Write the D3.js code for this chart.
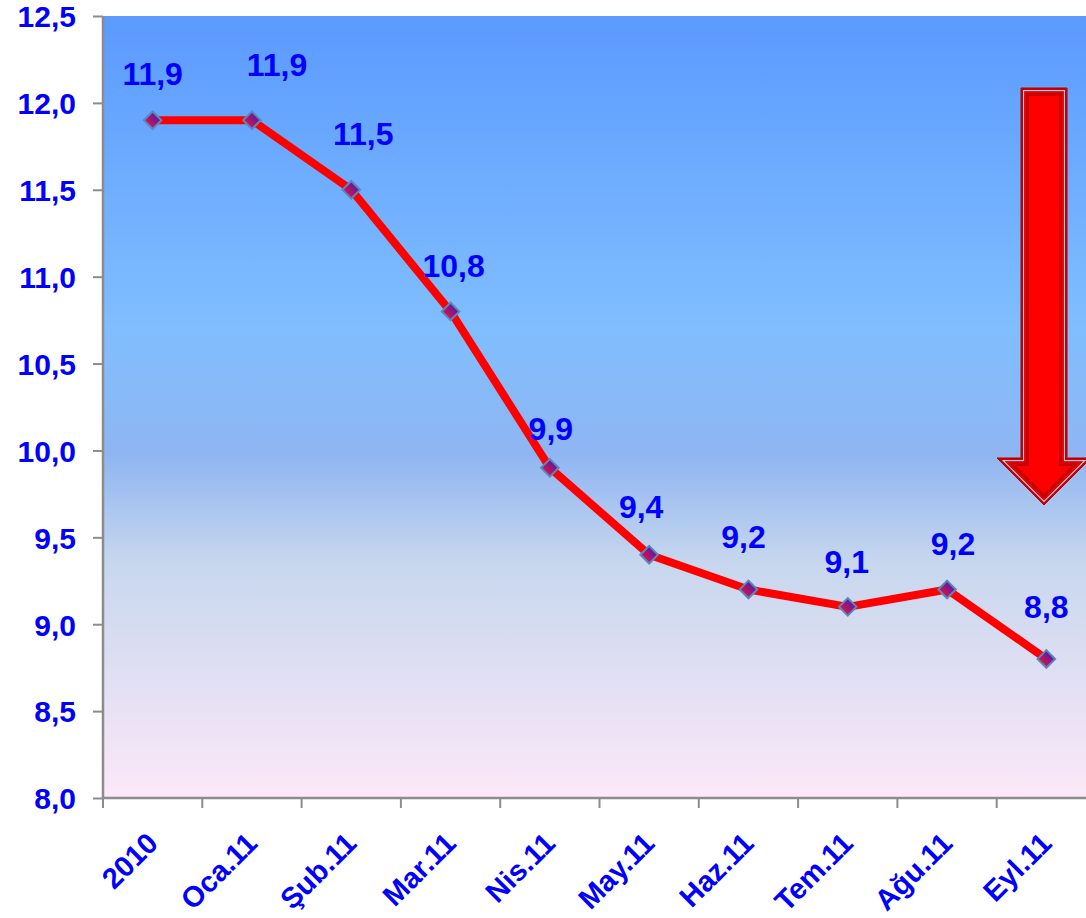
<!DOCTYPE html>
<html>
<head>
<meta charset="utf-8">
<script src="https://cdn.jsdelivr.net/npm/d3@7"></script>
<style>
  html, body { margin: 0; padding: 0; background: #ffffff; }
  svg { display: block; }
  text { font-family: Arial, "Liberation Sans", sans-serif; font-weight: bold; fill: #0000FF; }
</style>
</head>
<body>
<svg id="chart" width="1086" height="918"></svg>
<script>
// ---- data ----
const categories = ["2010", "Oca.11", "Şub.11", "Mar.11", "Nis.11", "May.11", "Haz.11", "Tem.11", "Ağu.11", "Eyl.11"];
const values = [11.9, 11.9, 11.5, 10.8, 9.9, 9.4, 9.2, 9.1, 9.2, 8.8];
const yTicks = [8.0, 8.5, 9.0, 9.5, 10.0, 10.5, 11.0, 11.5, 12.0, 12.5];

// ---- layout (label nudges in px, not data) ----
const labelNudgeX = [0, 25, 12, 3, 1, -8, -5, -1, 6, 0];
const labelNudgeY = [-35, -44, -45, -34, -28, -37, -41, -34, -34, -41];

const W = 1086, H = 918;
const plot = { left: 103, top: 16, bottom: 798, step: 99.3 };

const svg = d3.select("#chart");
const x = d3.scaleBand().domain(categories)
  .range([plot.left, plot.left + plot.step * categories.length]).padding(0);
const y = d3.scaleLinear().domain([8, 12.5]).range([plot.bottom, plot.top]);

const loc = d3.formatLocale({ decimal: ",", thousands: ".", grouping: [3], currency: ["", ""] });
const fmt = loc.format(".1f");

const defs = svg.append("defs");
const bg = defs.append("linearGradient").attr("id", "bg").attr("x1", 0).attr("y1", 0).attr("x2", 0).attr("y2", 1);
[[0, "#5B9AFF"], [0.40, "#80BEFF"], [0.56, "#8FB5F2"], [0.70, "#C7D7EE"], [1, "#FCE8F8"]]
  .forEach(([o, c]) => bg.append("stop").attr("offset", o).attr("stop-color", c));
const mk = defs.append("linearGradient").attr("id", "mk").attr("x1", 0).attr("y1", 0).attr("x2", 0).attr("y2", 1);
[[0, "#5E1A9E"], [1, "#D8104E"]].forEach(([o, c]) => mk.append("stop").attr("offset", o).attr("stop-color", c));

// plot background
svg.append("rect")
  .attr("x", plot.left).attr("y", plot.top)
  .attr("width", W - plot.left + 20).attr("height", plot.bottom - plot.top)
  .attr("fill", "url(#bg)");

// y axis
const yAxis = svg.append("g").attr("transform", `translate(${plot.left},0)`)
  .call(d3.axisLeft(y).tickValues(yTicks).tickFormat(fmt).tickSize(10).tickPadding(17));
yAxis.select(".domain").attr("stroke", "#8C8C8C").attr("stroke-width", 2.5).attr("d", `M0,${plot.top}V${plot.bottom}`);
yAxis.selectAll(".tick line").attr("stroke", "#8C8C8C").attr("stroke-width", 2);
yAxis.selectAll(".tick text").attr("font-size", 30).attr("fill", "#0000FF")
  .attr("font-family", "Arial, 'Liberation Sans', sans-serif").attr("font-weight", "bold")
  .attr("dy", "0.36em");

// x axis
const xAxis = svg.append("g").attr("transform", `translate(0,${plot.bottom})`)
  .call(d3.axisBottom(x).tickSize(0).tickFormat(""));
xAxis.select(".domain").attr("stroke", "#8C8C8C").attr("stroke-width", 2.5)
  .attr("d", `M${plot.left},0H${W + 20}`);
// band boundary ticks
svg.append("g").selectAll("line").data(categories).join("line")
  .attr("x1", d => x(d)).attr("x2", d => x(d))
  .attr("y1", plot.bottom).attr("y2", plot.bottom + 10)
  .attr("stroke", "#8C8C8C").attr("stroke-width", 2);

// x labels rotated
svg.append("g").selectAll("text").data(categories).join("text")
  .attr("text-anchor", "end")
  .attr("font-size", 29)
  .attr("transform", d => `translate(${x(d) + x.bandwidth() / 2 + 7},${plot.bottom + 47}) rotate(-45)`)
  .text(d => d);

// arrow decoration
const A = { sl: 1021, sr: 1067, top: 88, hb: 458, hl: 997, tipx: 1044, tipy: 505 };
function arrowPts(d) {
  const r2 = Math.SQRT2;
  const hr = 2 * A.tipx - A.hl;
  return [
    [A.sl + d, A.top + d], [A.sr - d, A.top + d], [A.sr - d, A.hb + d],
    [hr - d * (1 + r2), A.hb + d], [A.tipx, A.tipy - d * r2],
    [A.hl + d * (1 + r2), A.hb + d], [A.sl + d, A.hb + d]
  ];
}
const line0 = d3.line().curve(d3.curveLinearClosed);
const ag = svg.append("g");
ag.append("path").attr("d", line0(arrowPts(0))).attr("fill", "#C80000").attr("stroke", "#B00000").attr("stroke-width", 1);
ag.append("path").attr("d", line0(arrowPts(2.6))).attr("fill", "none").attr("stroke", "#B9CCF2").attr("stroke-width", 1.2);
ag.append("path").attr("d", line0(arrowPts(3.4))).attr("fill", "#F00000");
ag.append("path").attr("d", line0(arrowPts(4.8))).attr("fill", "#C80000");
ag.append("path").attr("d", line0(arrowPts(8))).attr("fill", "#FF0000");

// data line
const pts = categories.map((c, i) => ({ c, v: values[i], i }));
const cx = d => x(d.c) + x.bandwidth() / 2;
svg.append("path").datum(pts)
  .attr("d", d3.line().x(cx).y(d => y(d.v)).curve(d3.curveLinear))
  .attr("fill", "none").attr("stroke", "#FF0000").attr("stroke-width", 8).attr("stroke-linejoin", "round");

// markers
svg.append("g").selectAll("path").data(pts).join("path")
  .attr("transform", d => `translate(${cx(d)},${y(d.v)}) rotate(45)`)
  .attr("d", "M-6.2,-6.2H6.2V6.2H-6.2Z")
  .attr("fill", "url(#mk)").attr("stroke", "#5A87BC").attr("stroke-width", 2);

// data labels
svg.append("g").selectAll("text").data(pts).join("text")
  .attr("text-anchor", "middle")
  .attr("font-size", 32)
  .attr("x", d => cx(d) + labelNudgeX[d.i])
  .attr("y", d => y(d.v) + labelNudgeY[d.i])
  .text(d => fmt(d.v));
</script>
</body>
</html>
